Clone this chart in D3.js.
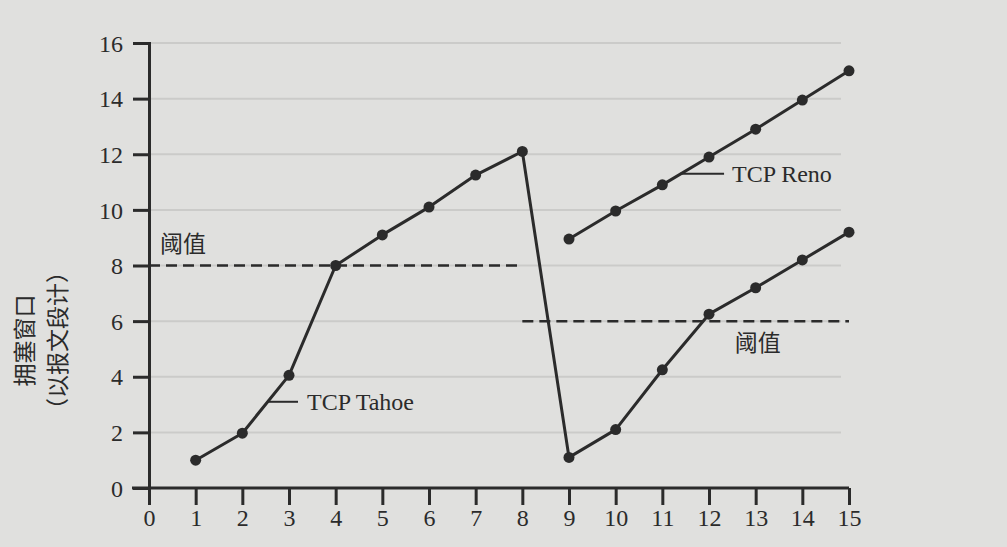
<!DOCTYPE html>
<html>
<head>
<meta charset="utf-8">
<script src="https://cdn.jsdelivr.net/npm/d3@7"></script>
<style>
  html, body { margin: 0; padding: 0; background: #e0e0de; }
  svg { display: block; }
  text { font-family: "DejaVu Serif", "Liberation Serif", "Times New Roman", serif; fill: #2b2b2b; }
  text.serif2 { font-family: "Liberation Serif", "Times New Roman", "DejaVu Serif"; }
  .cjk { font-family: "Noto Sans CJK SC", sans-serif; }
</style>
</head>
<body>
<svg id="chart" width="1007" height="547"></svg>
<script>
// ---- data ----
const rounds = [1,2,3,4,5,6,7,8,9,10,11,12,13,14,15];
const tahoe = [1, 1.97, 4.05, 8, 9.1, 10.1, 11.25, 12.1, 1.1, 2.1, 4.25, 6.25, 7.2, 8.2, 9.2];
const renoRounds = [9,10,11,12,13,14,15];
const reno = [8.95, 9.96, 10.9, 11.9, 12.9, 13.95, 15.0];
const xTicks = [0,1,2,3,4,5,6,7,8,9,10,11,12,13,14,15];
const yTicks = [0,2,4,6,8,10,12,14,16];
const thresholds = [ {from: 0, to: 8, value: 8}, {from: 8, to: 15, value: 6} ];
const yLabel1 = "拥塞窗口";
const yLabel2 = "（以报文段计）";
const thresholdLabel = "阈值";
const seriesNames = ["TCP Tahoe", "TCP Reno"];

// ---- layout ----
const svg = d3.select("#chart");
const ink = "#2b2b2b";
const x = d3.scaleLinear().domain([0, 15]).range([149, 849]);
const y = d3.scaleLinear().domain([0, 16]).range([488, 43]);

// faint gridlines
svg.append("g").selectAll("line").data(yTicks.filter(d => d > 0)).join("line")
  .attr("x1", x(0)).attr("x2", x(15) - 8)
  .attr("y1", d => y(d)).attr("y2", d => y(d))
  .attr("stroke", "#cbcbc9").attr("stroke-width", 2);

// y axis
const yAxis = d3.axisLeft(y).tickValues(yTicks).tickSize(16).tickPadding(10).tickFormat(d3.format("d"));
const gy = svg.append("g").attr("transform", `translate(${x(0)},0)`).call(yAxis).attr("font-family", null);
gy.select(".domain").attr("stroke", ink).attr("stroke-width", 3);
gy.selectAll(".tick line").attr("stroke", ink).attr("stroke-width", 3);
gy.selectAll(".tick text").attr("class", "serif2").attr("font-size", 24).attr("fill", ink).attr("dy", "0.34em");

// x axis
const xAxis = d3.axisBottom(x).tickValues(xTicks).tickSize(17).tickPadding(4).tickFormat(d3.format("d"));
const gx = svg.append("g").attr("transform", `translate(0,${y(0)})`).call(xAxis).attr("font-family", null);
gx.select(".domain").attr("stroke", ink).attr("stroke-width", 3)
  .attr("d", `M${x(0) - 17},0H${x(15)}`);
gx.selectAll(".tick line").attr("stroke", ink).attr("stroke-width", 3);
gx.selectAll(".tick text").attr("class", "serif2").attr("font-size", 24).attr("fill", ink);

// threshold dashed lines
svg.append("g").selectAll("line").data(thresholds).join("line")
  .attr("x1", d => x(d.from)).attr("x2", d => x(d.to))
  .attr("y1", d => y(d.value)).attr("y2", d => y(d.value))
  .attr("stroke", ink).attr("stroke-width", 2.5).attr("stroke-dasharray", "11,6");

svg.append("text").attr("class", "cjk").attr("x", x(0) + 11).attr("y", y(8) - 14)
  .attr("font-size", 23).text(thresholdLabel);
svg.append("text").attr("class", "cjk").attr("x", x(12.55)).attr("y", y(6) + 30)
  .attr("font-size", 23).text(thresholdLabel);

// lines
const line = d3.line().x(d => x(d[0])).y(d => y(d[1]));
const tahoePts = rounds.map((r, i) => [r, tahoe[i]]);
const renoPts = renoRounds.map((r, i) => [r, reno[i]]);
[tahoePts, renoPts].forEach(pts => {
  svg.append("path").datum(pts).attr("d", line)
    .attr("fill", "none").attr("stroke", ink).attr("stroke-width", 3).attr("stroke-linejoin", "round");
  svg.append("g").selectAll("circle").data(pts).join("circle")
    .attr("cx", d => x(d[0])).attr("cy", d => y(d[1])).attr("r", 5.5).attr("fill", ink);
});

// series labels with leader lines
const tahoeAt = [2.55, 3.1];
svg.append("line").attr("x1", x(tahoeAt[0])).attr("x2", x(tahoeAt[0]) + 30)
  .attr("y1", y(tahoeAt[1])).attr("y2", y(tahoeAt[1])).attr("stroke", ink).attr("stroke-width", 2);
svg.append("text").attr("class", "serif2").attr("x", x(tahoeAt[0]) + 39).attr("y", y(tahoeAt[1])).attr("dy", "0.35em")
  .attr("font-size", 24).text(seriesNames[0]);

const renoAt = [11.38, 11.3];
svg.append("line").attr("x1", x(renoAt[0])).attr("x2", x(renoAt[0]) + 44)
  .attr("y1", y(renoAt[1])).attr("y2", y(renoAt[1])).attr("stroke", ink).attr("stroke-width", 2);
svg.append("text").attr("class", "serif2").attr("x", x(renoAt[0]) + 52).attr("y", y(renoAt[1])).attr("dy", "0.35em")
  .attr("font-size", 24).text(seriesNames[1]);

// y axis title (two rotated columns)
svg.append("text").attr("class", "cjk").attr("transform", `translate(33,${y(5.3)}) rotate(-90)`)
  .attr("text-anchor", "middle").attr("font-size", 23).text(yLabel1);
svg.append("text").attr("class", "cjk").attr("transform", `translate(66,${y(5.3)}) rotate(-90)`)
  .attr("text-anchor", "middle").attr("font-size", 23).text(yLabel2);
</script>
</body>
</html>
